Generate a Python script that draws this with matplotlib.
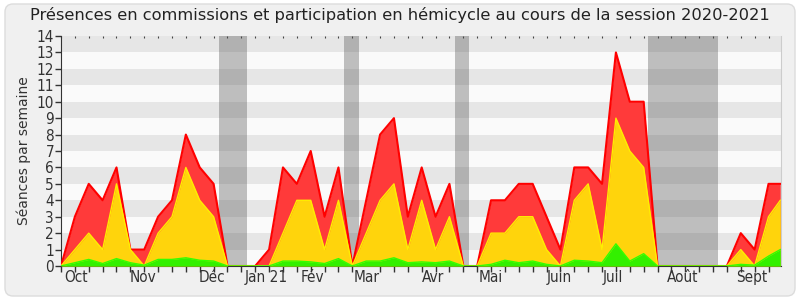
import matplotlib.pyplot as plt
from matplotlib.patches import FancyBboxPatch

# weekly values, session 2020-2021 (last point is the partial final week)
weeks = list(range(52)) + [51.85]
commissions = [0, 3, 5, 4, 6, 1, 1, 3, 4, 8, 6, 5, 0, 0, 0, 1, 6, 5, 7, 3, 6, 0,
               4, 8, 9, 3, 6, 3, 5, 0, 0, 4, 4, 5, 5, 3, 1, 6, 6, 5, 13, 10, 10,
               0, 0, 0, 0, 0, 0, 2, 1, 5, 5]
hemicycle = [0, 1, 2, 1, 5, 1, 0, 2, 3, 6, 4, 3, 0, 0, 0, 0, 2, 4, 4, 1, 4, 0,
             2, 4, 5, 1, 4, 1, 3, 0, 0, 2, 2, 3, 3, 1, 0, 4, 5, 1, 9, 7, 6,
             0, 0, 0, 0, 0, 0, 1, 0, 3, 4]
interventions = [0, 0.2, 0.4, 0.15, 0.45, 0.2, 0.05, 0.4, 0.4, 0.5, 0.35, 0.3, 0,
                 0, 0, 0, 0.3, 0.3, 0.25, 0.15, 0.45, 0,
                 0.3, 0.3, 0.5, 0.2, 0.25, 0.2, 0.3, 0, 0, 0.1, 0.35, 0.2, 0.3,
                 0.1, 0, 0.35, 0.3, 0.2, 1.35, 0.3, 0.75,
                 0, 0, 0, 0, 0, 0, 0.1, 0.05, 0.6, 1.0]

# parliamentary holidays (in week units)
vacances = [(11.42, 13.42), (20.37, 21.45), (28.38, 29.38), (42.32, 47.35)]

month_pos = [1.07, 5.94, 10.9, 14.8, 18.1, 22.0, 26.8, 30.97, 35.9, 39.8, 44.8, 49.8]
month_labels = ['Oct', 'Nov', 'Déc', 'Jan 21', 'Fév', 'Mar', 'Avr', 'Mai',
                'Juin', 'Juil', 'Août', 'Sept']

fig = plt.figure(figsize=(8, 3), dpi=100)
fig.patch.set_facecolor('white')
fig.patches.append(FancyBboxPatch((5, 4), 790, 292, boxstyle='round,pad=0,rounding_size=8',
                                  transform=None, facecolor='#f0f0f0',
                                  edgecolor='#dcdcdc', linewidth=1, zorder=-10))
ax = fig.add_axes([61 / 800, 34 / 300, 720 / 800, 230 / 300])
ax.set_facecolor('#fafafa')

# alternating stripes
for k in range(7):
    ax.axhspan(2 * k + 1, 2 * k + 2, color='#e6e6e6', lw=0, zorder=0)

for a, b in vacances:
    ax.axvspan(a, b, color='#505050', alpha=0.35, lw=0, zorder=1)

ax.fill_between(weeks, commissions, color='#ff3a3a', lw=0, zorder=2)
ax.plot(weeks, commissions, color='#ff0000', lw=1.5, zorder=3)
ax.fill_between(weeks, hemicycle, color='#ffd40c', lw=0, zorder=4)
ax.plot(weeks, hemicycle, color='#ffee00', lw=1, zorder=5)
ax.fill_between(weeks, interventions, color='#33f000', lw=0, zorder=6)
ax.plot(weeks, interventions, color='#33ff00', lw=1, zorder=7)

ax.set_xlim(0, 51.9)
ax.set_ylim(0, 14)
ax.set_yticks(range(15))
ax.set_xticks(range(52), minor=True)
ax.set_xticks(month_pos)
ax.set_xticklabels(month_labels)

tick_font = dict(family='DejaVu Sans', stretch='condensed', size=11)
for lab in ax.get_xticklabels() + ax.get_yticklabels():
    lab.set_fontproperties(tick_font)
    lab.set_color('#333333')

ax.tick_params(axis='x', which='major', length=0, pad=3)
ax.tick_params(axis='x', which='minor', length=4, width=1, color='#333333',
               bottom=True, top=False)
ax.tick_params(axis='y', length=4, width=1, color='#333333', pad=1)

# small dotted ticks along the top edge
top = ax.secondary_xaxis('top')
top.set_xticks(range(52))
top.tick_params(length=1.5, width=0.8, color='#444444', direction='in', labeltop=False)
top.spines['top'].set_visible(False)

ax.spines['top'].set_visible(False)
ax.spines['right'].set_color('#cccccc')
ax.spines['left'].set_color('#333333')
ax.spines['bottom'].set_color('#333333')

ax.set_ylabel('Séances par semaine', fontsize=10, color='#333333', labelpad=4)
fig.text(0.5, 0.95, 'Présences en commissions et participation en hémicycle au cours de la session 2020-2021',
         ha='center', va='center', fontsize=11.7, color='#222222')

plt.savefig('out.png', dpi=100)
